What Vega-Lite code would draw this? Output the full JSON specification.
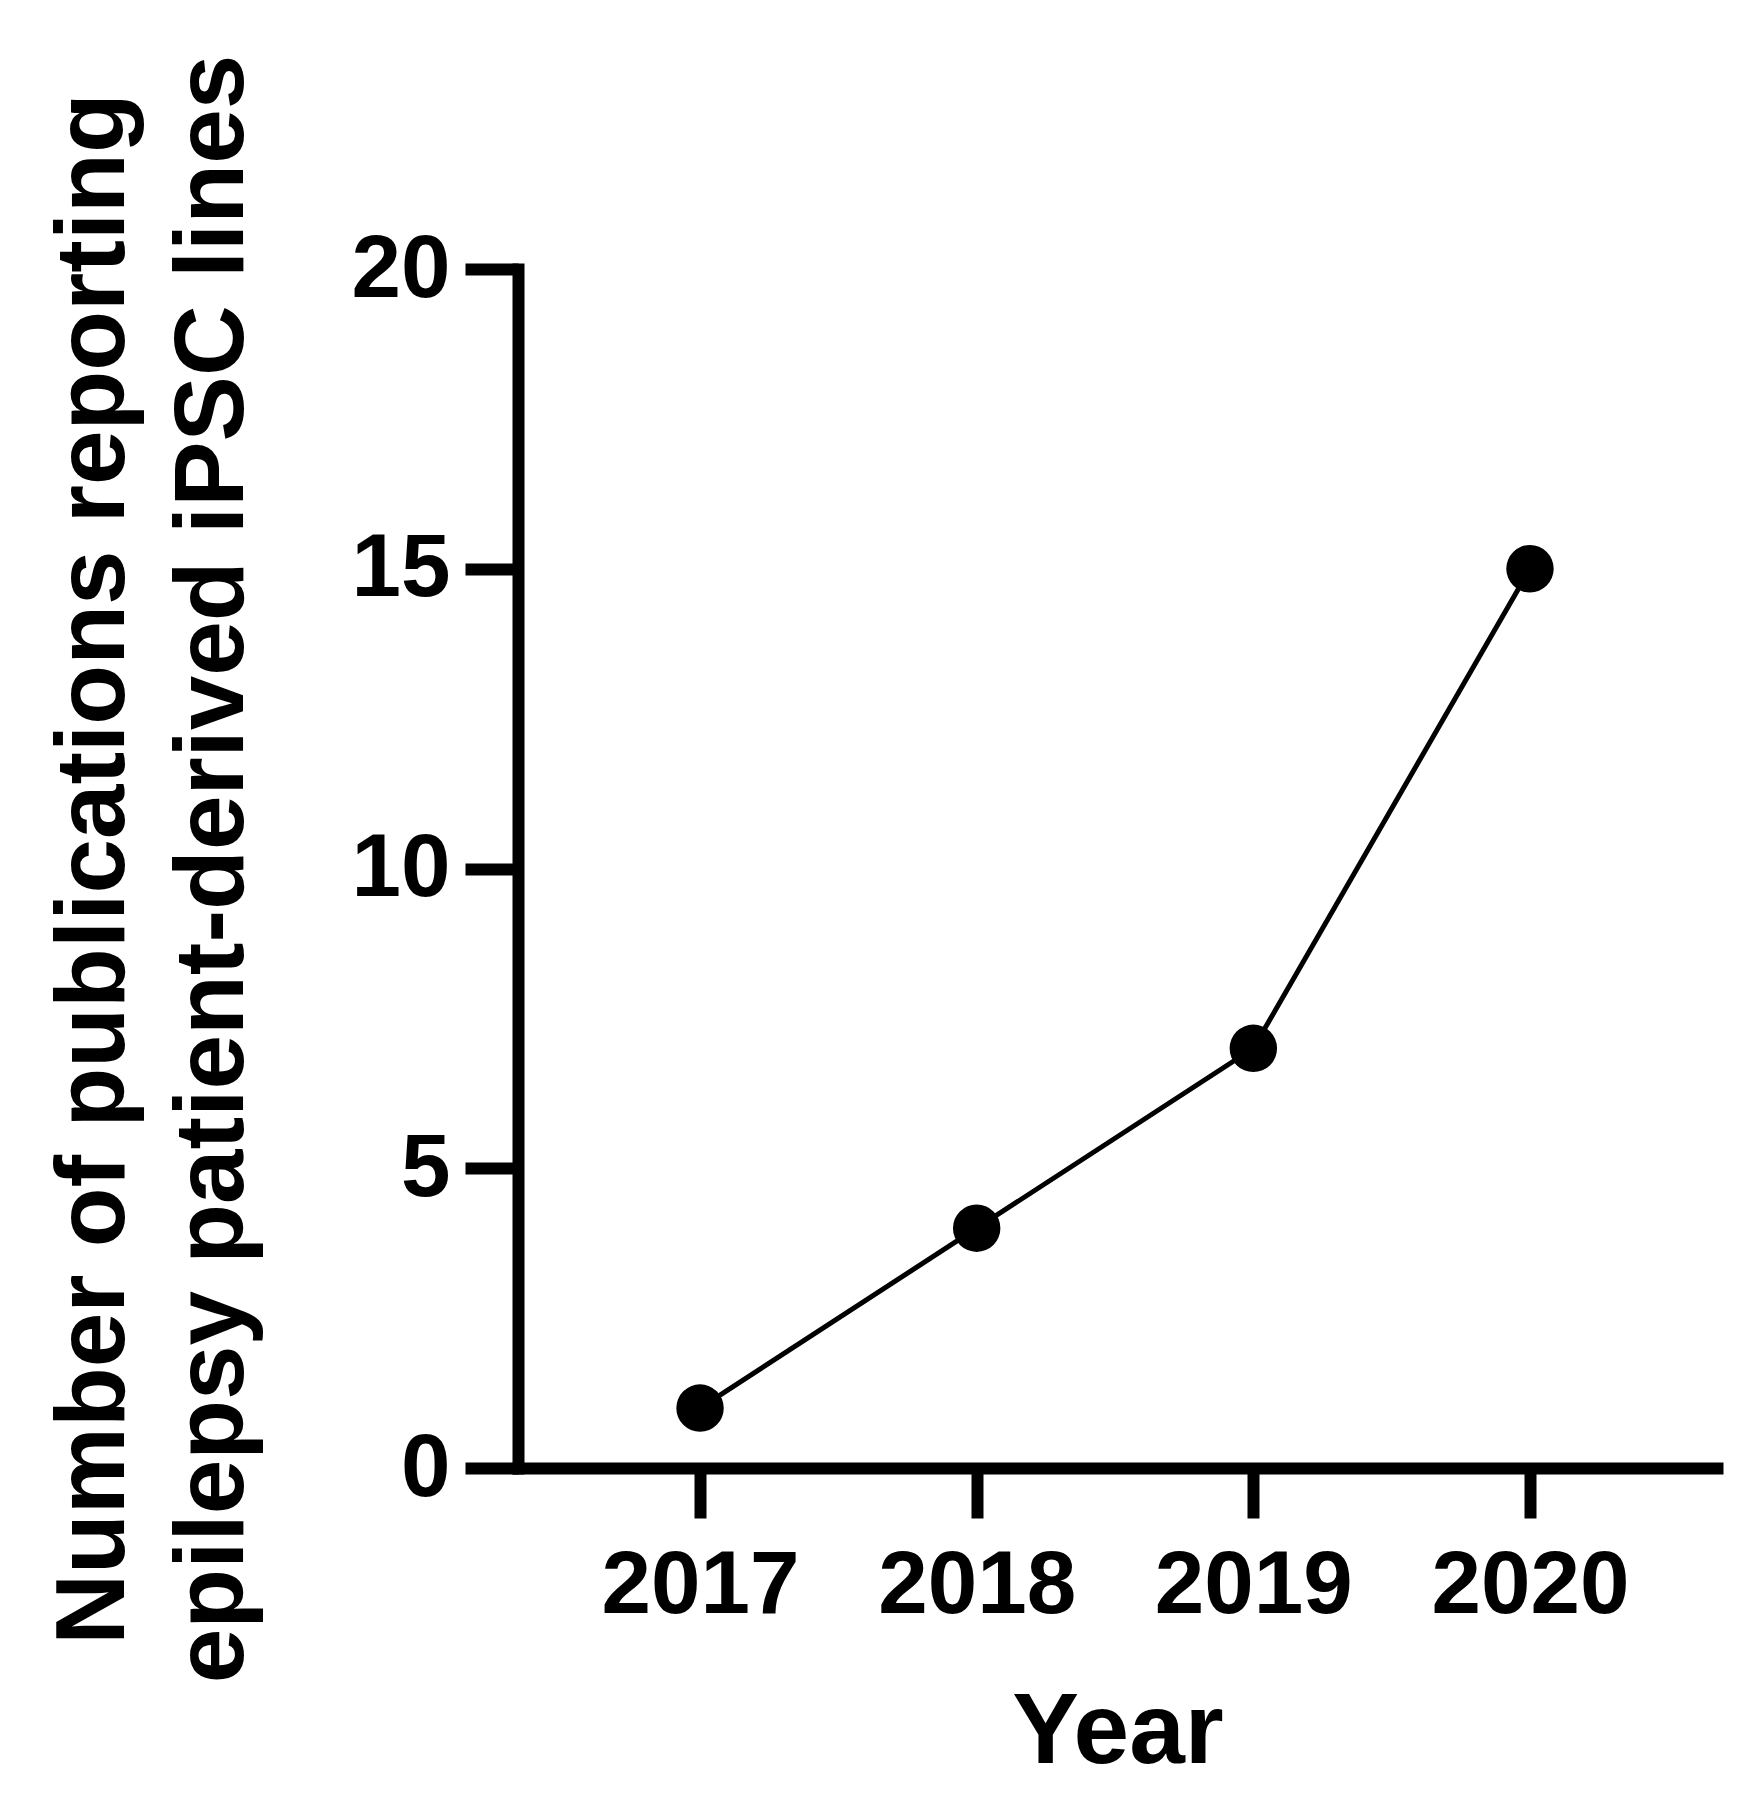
{
  "$schema": "https://vega.github.io/schema/vega-lite/v6.json",
  "autosize": {"type": "none"},
  "padding": {"left": 518, "top": 269, "right": 25, "bottom": 326},
  "width": 1199,
  "height": 1199,
  "background": "white",
  "config": {"view": {"stroke": null}, "font": "Liberation Sans"},
  "data": {"values": [
    {"year": 2017, "count": 1},
    {"year": 2018, "count": 4},
    {"year": 2019, "count": 7},
    {"year": 2020, "count": 15}
  ]},
  "encoding": {
    "x": {
      "field": "year", "type": "quantitative",
      "scale": {"domain": [2016.342, 2020.676], "nice": false, "zero": false},
      "axis": {
        "values": [2017, 2018, 2019, 2020], "format": "d", "grid": false,
        "labelFont": "Liberation Sans", "labelFontSize": 89, "labelFontWeight": "bold", "labelColor": "black",
        "labelPadding": 24, "labelFlush": false, "labelOverlap": false, "labelLimit": 0,
        "domainColor": "black", "domainWidth": 12, "domainCap": "square",
        "tickColor": "black", "tickWidth": 12, "tickSize": 50,
        "title": "Year", "titleFont": "Liberation Sans", "titleFontSize": 100, "titleFontWeight": "bold", "titleColor": "black",
        "titlePadding": 53
      }
    },
    "y": {
      "field": "count", "type": "quantitative",
      "scale": {"domain": [0, 20], "nice": false},
      "axis": {
        "values": [0, 5, 10, 15, 20], "grid": false,
        "labelFont": "Liberation Sans", "labelFontSize": 89, "labelFontWeight": "bold", "labelColor": "black",
        "labelPadding": 15, "labelFlush": false, "labelOverlap": false, "labelLimit": 0,
        "domainColor": "black", "domainWidth": 12, "domainCap": "square",
        "tickColor": "black", "tickWidth": 12, "tickSize": 53,
        "title": ["Number of publications reporting", "epilepsy patient-derived iPSC lines"],
        "titleFont": "Liberation Sans", "titleFontSize": 98, "titleFontWeight": "bold", "titleColor": "black",
        "titleLineHeight": 119, "titlePadding": 88
      }
    }
  },
  "layer": [
    {"mark": {"type": "line", "color": "black", "strokeWidth": 5}},
    {"mark": {"type": "circle", "color": "black", "opacity": 1, "size": 2250}}
  ]
}
